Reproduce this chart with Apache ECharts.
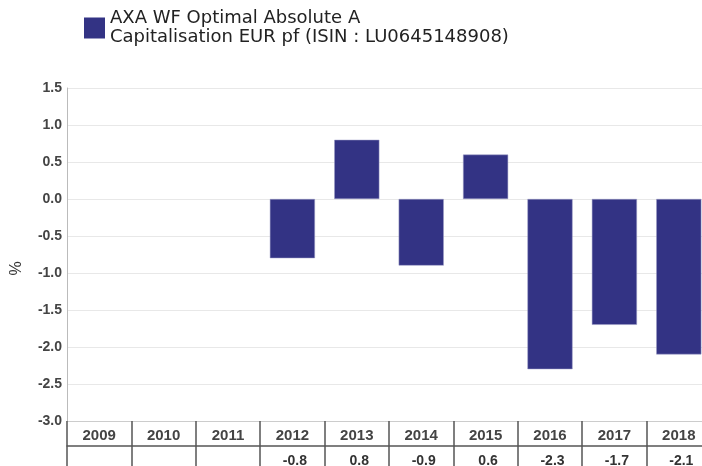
<!DOCTYPE html>
<html>
<head>
<meta charset="utf-8">
<script src="https://cdn.jsdelivr.net/npm/echarts@6/dist/echarts.min.js"></script>
<style>
html,body{margin:0;padding:0;background:#fff;}
#chart{width:702px;height:466px;}
</style>
</head>
<body>
<div id="chart"></div>
<script>
var years = ['2009','2010','2011','2012','2013','2014','2015','2016','2017','2018'];
var values = [null, null, null, -0.8, 0.8, -0.9, 0.6, -2.3, -1.7, -2.1];
var seriesName = 'AXA WF Optimal Absolute A\nCapitalisation EUR pf (ISIN : LU0645148908)';
var yTicks = { min: -3, max: 1.5, interval: 0.5 };

var valueLabels = values.map(function (v) { return v == null ? '' : v.toFixed(1); });
var font = '"Liberation Sans", Arial, sans-serif';

var chart = echarts.init(document.getElementById('chart'), null, { renderer: 'canvas' });
chart.setOption({
  animation: false,
  backgroundColor: '#ffffff',
  legend: {
    left: 84, top: 4, padding: 0,
    itemWidth: 21, itemHeight: 21, itemGap: 5,
    icon: 'rect',
    selectedMode: false,
    itemStyle: { borderWidth: 0 },
    textStyle: { color: '#222', fontSize: 18, fontFamily: '"DejaVu Sans", sans-serif', lineHeight: 19, padding: [10, 0, 0, 0] },
    data: [seriesName]
  },
  grid: { left: 67, width: 644, top: 88, bottom: 45, containLabel: false, outerBoundsMode: 'none' },
  xAxis: [
    {
      type: 'category', data: years, position: 'bottom',
      axisLine: { show: true, onZero: false, lineStyle: { color: '#cccccc', width: 1 } },
      axisTick: { show: true, length: 25, interval: 0, lineStyle: { color: '#555', width: 1.5 } },
      axisLabel: { interval: 0, margin: 7, color: '#444', fontSize: 15, fontWeight: 'bold', fontFamily: font },
      splitLine: { show: false }
    },
    {
      type: 'category', data: valueLabels, position: 'bottom', offset: 25,
      axisLine: { show: true, onZero: false, lineStyle: { color: '#555', width: 1.5 } },
      axisTick: { show: true, length: 25, interval: 0, lineStyle: { color: '#555', width: 1.5 } },
      axisLabel: { interval: 0, margin: 8, color: '#333', fontSize: 14, fontWeight: 'bold', fontFamily: font, padding: [0, 0, 0, 5] },
      splitLine: { show: false }
    }
  ],
  yAxis: {
    type: 'value', min: yTicks.min, max: yTicks.max, interval: yTicks.interval,
    name: '%', nameLocation: 'middle', nameRotate: 90, nameGap: 42,
    nameTextStyle: { color: '#333', fontSize: 16, fontFamily: font, padding: [0, 0, 0, -28] },
    axisLine: { show: true, lineStyle: { color: '#bbbbbb' } },
    axisTick: { show: false },
    axisLabel: {
      margin: 5, color: '#444', fontSize: 14, fontWeight: 'bold', fontFamily: font,
      formatter: function (v) { return v.toFixed(1); }
    },
    splitLine: { show: true, lineStyle: { color: '#e8e8e8' } }
  },
  series: [{
    name: seriesName,
    type: 'bar',
    xAxisIndex: 0,
    data: values,
    barWidth: '70%',
    itemStyle: { color: '#333384', borderColor: '#9a9ac4', borderWidth: 0.5 }
  }]
});
</script>
</body>
</html>
